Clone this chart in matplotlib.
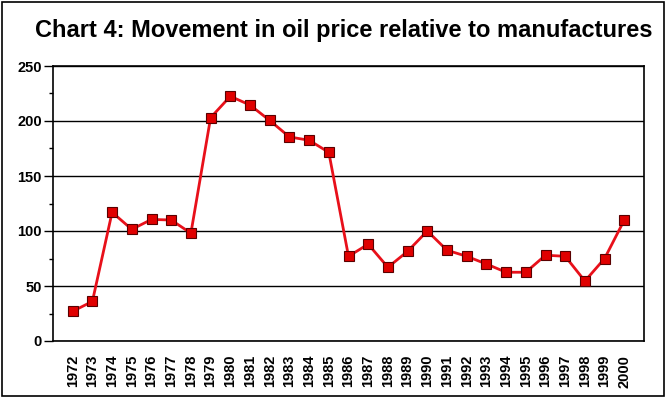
import matplotlib
matplotlib.use("Agg")
import matplotlib.pyplot as plt
from matplotlib.patches import Rectangle
from matplotlib.ticker import MultipleLocator

plt.rcParams["font.family"] = ["Liberation Sans", "DejaVu Sans"]

# 数据：从图上读取
years = [str(y) for y in range(1972, 2001)]
oil_relative = [27, 36, 117, 101.5, 110.5, 110, 98, 203, 222.5, 214.5, 200.5,
                185.5, 182.5, 171.5, 77, 88, 67, 81.5, 100, 82.5, 77, 70,
                62.5, 62.5, 78, 77, 54.5, 75, 110]
y_ticks = [0, 50, 100, 150, 200, 250]

title = "Chart 4: Movement in oil price relative to manufactures"

W, H = 669, 397
fig = plt.figure(figsize=(W / 100, H / 100), dpi=100)

# 绘图区位置（像素 → 图形坐标）
left, right, top, bottom = 53, 644, 66, 341
ax = fig.add_axes([left / W, 1 - bottom / H, (right - left) / W, (bottom - top) / H])

x = list(range(len(years)))
ax.plot(x, oil_relative, color="#E8101A", linewidth=2, marker="s",
        markersize=7.5, markerfacecolor="#E00000", markeredgecolor="#5A0000",
        markeredgewidth=0.8, zorder=3)

ax.set_xlim(-1, len(years))
ax.set_ylim(0, 250)
ax.set_yticks(y_ticks)
ax.yaxis.set_minor_locator(MultipleLocator(25))
ax.set_yticklabels([str(v) for v in y_ticks], fontsize=10.5, fontweight="bold")
ax.tick_params(axis="y", which="major", length=6.5, width=1, pad=1.5, direction="out")
ax.tick_params(axis="y", which="minor", length=3, width=1, direction="out")

ax.set_xticks(x)
ax.set_xticklabels(years, rotation=90, fontsize=10.5, fontweight="bold")
ax.tick_params(axis="x", length=0, pad=10)

ax.grid(axis="y", which="major", color="black", linewidth=1)
ax.set_axisbelow(True)
for s in ax.spines.values():
    s.set_linewidth(1.2)
    s.set_color("black")

fig.text(344 / W, 1 - 31 / H, title, ha="center", va="center",
         fontsize=17, fontweight="bold")

# 外边框
fig.patches.append(Rectangle((2 / W, 1 - 396 / H), 662 / W, 394 / H,
                             transform=fig.transFigure, fill=False,
                             edgecolor="black", linewidth=1.2))

fig.savefig("out.png", dpi=100)
